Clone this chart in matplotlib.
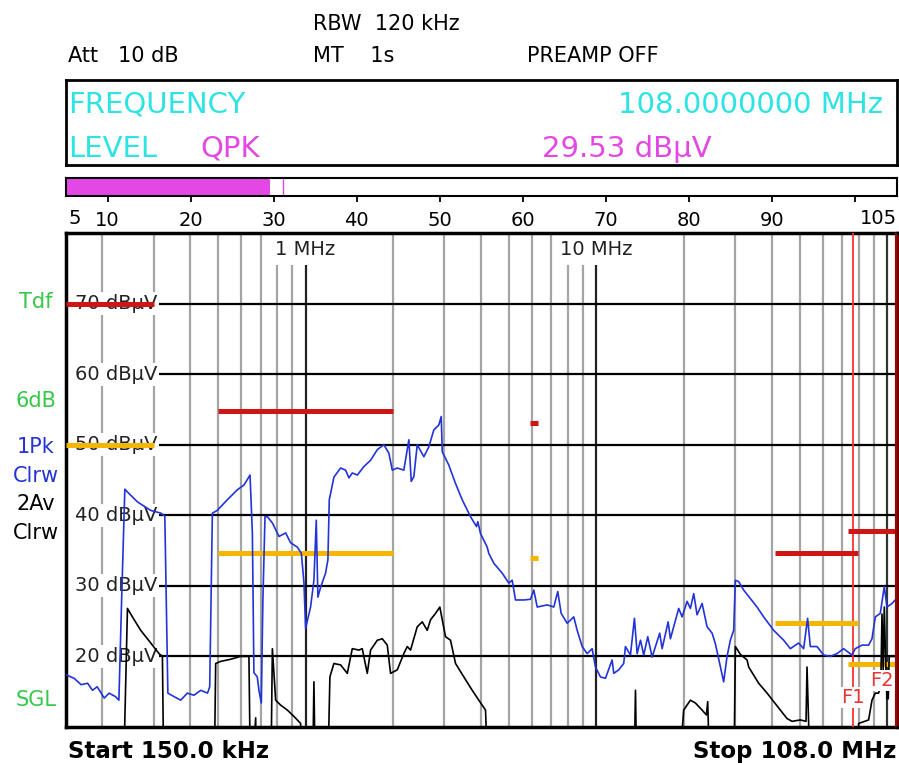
import matplotlib
matplotlib.use('Agg')
import matplotlib.pyplot as plt

plt.rcParams['font.family'] = ['DejaVu Sans']

W, H = 899, 765

# 1Pk Clrw trace (frequency MHz, level dBuV)
pk_freq = [0.150, 0.160, 0.169, 0.178, 0.185, 0.192, 0.203, 0.211, 0.222, 0.228,
           0.233, 0.239, 0.244, 0.264, 0.293, 0.318, 0.328, 0.336, 0.353, 0.372,
           0.392, 0.413, 0.436, 0.460, 0.468, 0.478, 0.497, 0.538, 0.582, 0.614,
           0.644, 0.656, 0.664, 0.682, 0.691, 0.704, 0.713, 0.725, 0.739, 0.769,
           0.810, 0.854, 0.888, 0.936, 0.967, 0.987, 1.000, 1.040, 1.068, 1.088,
           1.102, 1.126, 1.171, 1.193, 1.206, 1.251, 1.319, 1.372, 1.409, 1.447,
           1.506, 1.586, 1.673, 1.764, 1.858, 1.933, 1.986, 2.066, 2.176, 2.265,
           2.308, 2.356, 2.420, 2.550, 2.653, 2.760, 2.872, 2.926, 2.950, 3.108,
           3.277, 3.455, 3.690, 3.869, 3.909, 3.994, 4.210, 4.264, 4.437, 4.742,
           4.996, 5.132, 5.268, 5.625, 5.933, 6.090, 6.256, 6.770, 7.133, 7.362,
           7.563, 7.932, 8.356, 8.584, 8.931, 9.291, 9.665, 9.922, 10.32, 10.74,
           11.32, 11.47, 11.93, 12.41, 12.58, 13.09, 13.51, 13.80, 14.17, 14.54,
           15.01, 15.54, 16.50, 16.82, 17.64, 17.96, 19.18, 19.70, 20.50, 21.04,
           21.60, 22.18, 23.08, 24.01, 24.98, 25.64, 26.68, 27.38, 28.12, 28.87,
           29.64, 30.04, 30.83, 32.08, 33.82, 35.66, 37.58, 40.68, 44.02, 46.42,
           49.57, 51.57, 53.22, 54.37, 57.33, 60.41, 63.69, 67.17, 70.77, 75.62,
           77.62, 81.87, 86.25, 88.60, 90.95, 94.61, 97.65, 99.77, 103.8, 106.5,
           108.0]
pk_level = [17.4, 16.9, 16.0, 16.2, 15.2, 15.7, 14.1, 14.8, 14.3, 13.8,
            28.0, 43.7, 43.3, 41.9, 40.7, 40.3, 39.9, 14.8, 14.3, 13.8,
            14.8, 14.5, 15.2, 14.8, 15.7, 40.3, 40.7, 42.2, 43.6, 44.3,
            45.7, 37.5, 17.7, 17.1, 15.2, 13.4, 28.0, 39.8, 39.8, 38.9,
            37.0, 37.5, 36.1, 35.5, 34.6, 30.4, 24.0, 27.0, 30.8, 39.3,
            28.4, 29.8, 31.8, 33.7, 42.2, 45.4, 46.7, 46.4, 45.3, 46.0,
            45.7, 46.9, 47.8, 49.3, 50.0, 48.8, 46.4, 46.7, 46.4, 50.7,
            44.8, 45.5, 50.0, 48.3, 49.7, 52.1, 52.8, 54.0, 49.0, 47.1,
            44.5, 42.2, 39.8, 38.4, 39.1, 37.4, 35.5, 34.6, 33.2, 31.8,
            30.4, 30.8, 28.0, 28.0, 28.1, 29.4, 27.0, 27.3, 27.0, 29.2,
            26.1, 24.7, 25.6, 23.7, 21.4, 20.4, 21.1, 18.5, 17.1, 16.9,
            19.5, 17.6, 18.1, 19.0, 21.4, 20.2, 25.4, 20.4, 22.3, 20.2,
            22.8, 19.9, 23.3, 21.1, 24.9, 22.5, 26.8, 25.6, 27.8, 26.8,
            28.9, 25.9, 27.5, 24.2, 23.3, 21.8, 18.5, 16.4, 20.0, 22.3,
            23.7, 30.8, 30.6, 29.4, 28.2, 27.0, 25.6, 23.7, 22.3, 21.1,
            21.9, 21.1, 25.4, 21.4, 21.4, 20.2, 20.0, 20.4, 21.1, 20.2,
            21.1, 21.6, 21.6, 22.5, 25.6, 26.1, 29.9, 27.0, 27.5, 28.0,
            28.0]

# 2Av Clrw trace (0 = below the display)
av_freq = [0.150, 0.2356, 0.2440, 0.2538, 0.2710, 0.2934, 0.3133, 0.3218, 0.3259, 0.4841,
           0.4906, 0.5104, 0.5525, 0.5978, 0.6384, 0.6471, 0.6734, 0.6788, 0.7582, 0.7685,
           0.7888, 0.8206, 0.8652, 0.9117, 0.9612, 0.9765, 1.054, 1.068, 1.082, 1.187,
           1.212, 1.251, 1.319, 1.391, 1.447, 1.525, 1.566, 1.629, 1.673, 1.764,
           1.835, 1.909, 1.959, 2.066, 2.176, 2.236, 2.295, 2.420, 2.518, 2.619,
           2.689, 2.797, 2.894, 2.950, 3.027, 3.149, 3.277, 3.499, 3.740, 3.940,
           4.155, 4.264, 13.43, 13.62, 13.80, 18.94, 19.95, 21.04, 21.89, 23.08,
           23.88, 24.13, 24.65, 29.64, 30.04, 31.24, 32.95, 33.38, 36.12, 38.61,
           40.68, 42.88, 45.21, 47.05, 50.23, 52.55, 52.97, 53.65, 54.37, 77.62,
           79.69, 86.25, 88.60, 90.95, 93.35, 95.0, 95.9, 96.8, 97.65, 98.6,
           99.77, 100.8, 101.5, 104.0, 108.0]
av_level = [0, 0, 26.8, 25.6, 23.7, 21.9, 20.4, 20.0, 0, 0,
            19.0, 19.3, 19.6, 20.0, 20.0, 0, 11.3, 0, 0, 21.1,
            13.8, 13.1, 12.4, 11.5, 10.5, 0, 0, 16.4, 0, 0,
            17.1, 19.0, 18.8, 17.6, 21.1, 20.9, 21.1, 17.6, 20.9, 22.3,
            22.5, 21.6, 17.6, 18.1, 20.4, 21.4, 20.9, 24.2, 24.9, 23.7,
            25.2, 26.1, 27.0, 25.2, 22.8, 22.3, 19.0, 17.1, 15.2, 13.8,
            12.4, 0, 0, 15.2, 0, 0, 12.4, 13.8, 13.4, 12.4,
            11.7, 13.6, 0, 0, 21.4, 20.3, 19.5, 18.5, 16.2, 14.8,
            13.6, 12.4, 11.2, 10.8, 11.0, 10.8, 18.5, 10.6, 0, 0,
            10.5, 11.0, 13.8, 14.8, 14.8, 16.0, 26.0, 18.0, 27.0, 20.0,
            14.0, 14.0, 20.0, 20.0, 20.0]

# limit lines: start / stop (MHz), peak and average levels (dBuV)
lim_start = [0.15, 0.50, 5.9, 41.0, 73.0]
lim_stop = [0.30, 2.00, 6.3, 79.0, 108.0]
lim_peak = [70.0, 54.8, 53.1, 34.6, 37.8]
lim_avg = [50.0, 34.6, 34.0, 24.7, 18.9]

y_grid = [20, 30, 40, 50, 60, 70]
x_grid = [0.2, 0.3, 0.4, 0.5, 0.6, 0.7, 0.8, 0.9, 1, 2, 3, 4, 5, 6, 7, 8, 9,
          10, 20, 30, 40, 50, 60, 70, 80, 90, 100]
f1, f2 = 76.2, 108.0

level_value = 29.53
level_max = 31.1
bar_ticks = [10, 20, 30, 40, 50, 60, 70, 80, 90, 100]
bar_labels = ['10', '20', '30', '40', '50', '60', '70', '80', '90', '']

cyan = '#2ee3e3'
magenta = '#e448e4'
green = '#35c84a'
blue = '#2233d8'
red = '#d01515'
orange = '#f6b500'


def fx(x):
    return x / W


def fy(y):
    return 1 - y / H


fig = plt.figure(figsize=(W / 100, H / 100), dpi=100)

# header
fig.text(fx(313), fy(30), 'RBW  120 kHz', fontsize=15, va='baseline')
fig.text(fx(68), fy(62), 'Att   10 dB', fontsize=15, va='baseline')
fig.text(fx(313), fy(62), 'MT    1s', fontsize=15, va='baseline')
fig.text(fx(527), fy(62), 'PREAMP OFF', fontsize=15, va='baseline')

box = fig.add_axes([fx(66), fy(165), (897 - 66) / W, (165 - 80) / H])
box.set_xticks([])
box.set_yticks([])
for s in box.spines.values():
    s.set_linewidth(2)
fig.text(fx(68), fy(113), 'FREQUENCY', fontsize=21, color=cyan, va='baseline')
fig.text(fx(883), fy(113), '108.0000000 MHz', fontsize=21, color=cyan, va='baseline', ha='right')
fig.text(fx(68), fy(157), 'LEVEL', fontsize=21, color=cyan, va='baseline')
fig.text(fx(200), fy(157), 'QPK', fontsize=21, color=magenta, va='baseline')
fig.text(fx(542), fy(157), '29.53 dBµV', fontsize=21, color=magenta, va='baseline')

# level bar
bar = fig.add_axes([fx(66), fy(196), (897 - 66) / W, 18 / H])
bar.set_xlim(5, 105)
bar.set_ylim(0, 1)
bar.barh(0.5, level_value - 5, left=5, height=1, color=magenta)
bar.axvline(level_max, color=magenta, lw=1)
bar.set_yticks([])
bar.set_xticks(bar_ticks)
bar.set_xticklabels(bar_labels)
bar.tick_params(axis='x', direction='out', length=4, width=1.3, pad=7, labelsize=14)
for s in bar.spines.values():
    s.set_linewidth(1.5)
fig.text(fx(69), fy(224), '5', fontsize=14, va='baseline')
fig.text(fx(897), fy(224), '105', fontsize=14, va='baseline', ha='right')

# main display
ax = fig.add_axes([fx(66), fy(727), (897 - 66) / W, (727 - 233) / H])
ax.set_xscale('log')
ax.set_xlim(0.15, 108)
ax.set_ylim(10, 80)
ax.tick_params(which='both', length=0, labelbottom=False, labelleft=False)
for s in ax.spines.values():
    s.set_linewidth(2.5)
ax.spines['right'].set_color('#7a0000')

for f in x_grid:
    if f in (1, 10):
        c = '#222222'
    elif f == 100:
        c = '#2e382e'
    else:
        c = '#a4a4a4'
    ax.axvline(f, color=c, lw=1.6, zorder=1)
for lv in y_grid:
    ax.axhline(lv, xmin=(160 - 66) / 831, color='black', lw=1.6, zorder=1)
    ax.text((75 - 66) / 831, lv, f'{lv} dBµV', transform=ax.get_yaxis_transform(),
            fontsize=14, va='center', ha='left', color='#222222', zorder=2,
            bbox=dict(boxstyle='square,pad=0.1', fc='white', ec='none'))

for f, lab in [(1, '1 MHz'), (10, '10 MHz')]:
    ax.text(f, 79.0, lab, ha='center', va='top', fontsize=14, color='#222222', zorder=2,
            bbox=dict(boxstyle='square,pad=0.3', fc='white', ec='none'))

ax.hlines(lim_peak, lim_start, lim_stop, colors=red, lw=3.6, zorder=4)
ax.hlines(lim_avg, lim_start, lim_stop, colors=orange, lw=3.6, zorder=4)

ax.plot(av_freq, av_level, color='black', lw=1.2, zorder=5)
ax.plot(pk_freq, pk_level, color=blue, lw=1.2, zorder=5)

ax.axvline(f1, color='#ff3030', lw=1.3, zorder=3)
ax.axvline(f2, color='#8b0a0a', lw=3, zorder=6)
ax.text(f1, 14.2, 'F1', ha='center', va='center', fontsize=14, color='#e53535', zorder=7,
        bbox=dict(boxstyle='square,pad=0.05', fc='white', ec='none'))
ax.text((894 - 66) / 831, 16.6, 'F2', ha='right', va='center', fontsize=14, color='#e53535',
        transform=ax.get_yaxis_transform(), zorder=7,
        bbox=dict(boxstyle='square,pad=0.05', fc='white', ec='none'))

# side labels
side = [('Tdf', 302, green), ('6dB', 401, green), ('1Pk', 447, blue), ('Clrw', 476, blue),
        ('2Av', 504, 'black'), ('Clrw', 533, 'black'), ('SGL', 700, green)]
for txt, yy, c in side:
    fig.text(fx(36), fy(yy), txt, fontsize=15, color=c, ha='center', va='center')

fig.text(fx(68), fy(758), 'Start 150.0 kHz', fontsize=16.5, fontweight='bold', va='baseline')
fig.text(fx(896), fy(758), 'Stop 108.0 MHz', fontsize=16.5, fontweight='bold', va='baseline', ha='right')

fig.savefig('out.png', dpi=100)
